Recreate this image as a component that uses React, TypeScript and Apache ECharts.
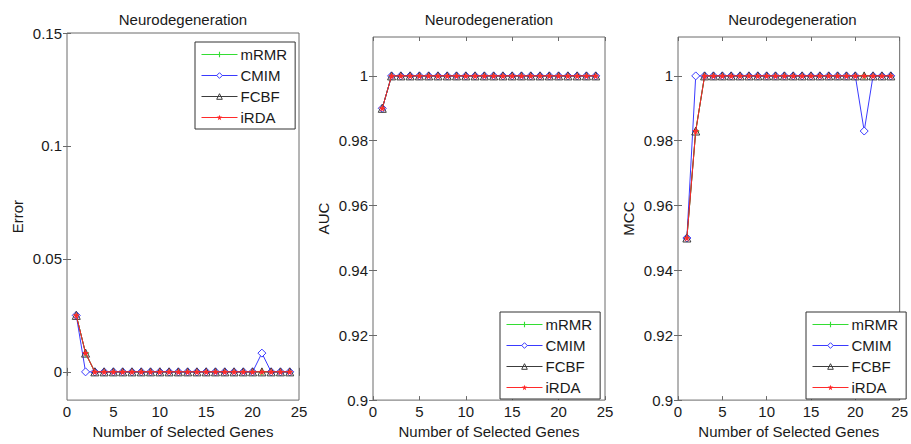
import React, { useEffect, useRef } from "react";
import * as echarts from "echarts";

const genes = [1, 2, 3, 4, 5, 6, 7, 8, 9, 10, 11, 12, 13, 14, 15, 16, 17, 18, 19, 20, 21, 22, 23, 24];
const methods = ["mRMR", "CMIM", "FCBF", "iRDA"];

const errorMRMR = [0.025, 0.0083, 0, 0, 0, 0, 0, 0, 0, 0, 0, 0, 0, 0, 0, 0, 0, 0, 0, 0, 0, 0, 0, 0];
const errorCMIM = [0.025, 0, 0, 0, 0, 0, 0, 0, 0, 0, 0, 0, 0, 0, 0, 0, 0, 0, 0, 0, 0.0083, 0, 0, 0];
const errorFCBF = [0.025, 0.0083, 0, 0, 0, 0, 0, 0, 0, 0, 0, 0, 0, 0, 0, 0, 0, 0, 0, 0, 0, 0, 0, 0];
const errorIRDA = [0.025, 0.0083, 0, 0, 0, 0, 0, 0, 0, 0, 0, 0, 0, 0, 0, 0, 0, 0, 0, 0, 0, 0, 0, 0];

const aucMRMR = [0.99, 1, 1, 1, 1, 1, 1, 1, 1, 1, 1, 1, 1, 1, 1, 1, 1, 1, 1, 1, 1, 1, 1, 1];
const aucCMIM = [0.99, 1, 1, 1, 1, 1, 1, 1, 1, 1, 1, 1, 1, 1, 1, 1, 1, 1, 1, 1, 1, 1, 1, 1];
const aucFCBF = [0.99, 1, 1, 1, 1, 1, 1, 1, 1, 1, 1, 1, 1, 1, 1, 1, 1, 1, 1, 1, 1, 1, 1, 1];
const aucIRDA = [0.99, 1, 1, 1, 1, 1, 1, 1, 1, 1, 1, 1, 1, 1, 1, 1, 1, 1, 1, 1, 1, 1, 1, 1];

const mccMRMR = [0.95, 0.983, 1, 1, 1, 1, 1, 1, 1, 1, 1, 1, 1, 1, 1, 1, 1, 1, 1, 1, 1, 1, 1, 1];
const mccCMIM = [0.95, 1, 1, 1, 1, 1, 1, 1, 1, 1, 1, 1, 1, 1, 1, 1, 1, 1, 1, 1, 0.983, 1, 1, 1];
const mccFCBF = [0.95, 0.983, 1, 1, 1, 1, 1, 1, 1, 1, 1, 1, 1, 1, 1, 1, 1, 1, 1, 1, 1, 1, 1, 1];
const mccIRDA = [0.95, 0.983, 1, 1, 1, 1, 1, 1, 1, 1, 1, 1, 1, 1, 1, 1, 1, 1, 1, 1, 1, 1, 1, 1];

const xTicks = [0, 5, 10, 15, 20, 25];
const errorTicks = [0, 0.05, 0.1, 0.15];
const scoreTicks = [0.9, 0.92, 0.94, 0.96, 0.98, 1];

const panelTitle = "Neurodegeneration";
const xName = "Number of Selected Genes";
const yNames = ["Error", "AUC", "MCC"];

const FONT = "'Liberation Sans', Arial, Helvetica, sans-serif";
const AXIS_COLOR = "#6a6a6a";
const TEXT_COLOR = "#1a1a1a";

const styles: Record<string, any> = {
  mRMR: {
    line: "#33dd33",
    symbol: "path://M4,0H6V4H10V6H6V10H4V6H0V4H4Z",
    size: 7,
    item: { color: "#33dd33", borderWidth: 0 },
  },
  CMIM: {
    line: "#3a3aff",
    symbol: "diamond",
    size: 8,
    item: { color: "#ffffff", borderColor: "#3a3aff", borderWidth: 1 },
  },
  FCBF: {
    line: "#3c3c3c",
    symbol: "triangle",
    size: 8,
    item: { color: "none", borderColor: "#3c3c3c", borderWidth: 1 },
  },
  iRDA: {
    line: "#ff2a2a",
    symbol: "path://M5,0L6.2,3.4L10,3.8L7,6.2L8,10L5,7.8L2,10L3,6.2L0,3.8L3.8,3.4Z",
    size: 7,
    item: { color: "#ff2a2a", borderWidth: 0 },
  },
};

const panelData = [
  [errorMRMR, errorCMIM, errorFCBF, errorIRDA],
  [aucMRMR, aucCMIM, aucFCBF, aucIRDA],
  [mccMRMR, mccCMIM, mccFCBF, mccIRDA],
];

const grids = [
  { left: 67, top: 33, width: 232, height: 369 },
  { left: 373, top: 37, width: 232, height: 365 },
  { left: 678, top: 37, width: 229, height: 365 },
];

const yRanges = [
  { min: -0.0125, max: 0.15, ticks: errorTicks },
  { min: 0.9, max: 1.012, ticks: scoreTicks },
  { min: 0.9, max: 1.012, ticks: scoreTicks },
];

const legendPos = [
  { left: 195, top: 42 },
  { left: 500, top: 312 },
  { left: 806, top: 312 },
];

function buildOption() {
  const xAxis: any[] = [];
  const yAxis: any[] = [];
  const series: any[] = [];
  const legend: any[] = [];
  const graphic: any[] = [];

  grids.forEach((g, i) => {
    const tickStyle = { show: true, inside: true, length: 4, lineStyle: { color: AXIS_COLOR, width: 1 } };
    xAxis.push({
      type: "value",
      gridIndex: i,
      position: "bottom",
      min: 0,
      max: 25,
      interval: 5,
      axisLine: { show: false },
      axisTick: { ...tickStyle, customValues: xTicks },
      splitLine: { show: false },
      axisLabel: { color: TEXT_COLOR, fontSize: 15, fontFamily: FONT, margin: 4, customValues: xTicks },
      name: xName,
      nameLocation: "middle",
      nameGap: 22,
      nameTextStyle: { color: TEXT_COLOR, fontSize: 15, fontFamily: FONT },
    });
    xAxis.push({
      type: "value",
      gridIndex: i,
      position: "top",
      min: 0,
      max: 25,
      interval: 5,
      axisLine: { show: false },
      axisTick: { ...tickStyle, customValues: xTicks },
      splitLine: { show: false },
      axisLabel: { show: false, customValues: xTicks },
    });
    const yr = yRanges[i];
    yAxis.push({
      type: "value",
      gridIndex: i,
      position: "left",
      min: yr.min,
      max: yr.max,
      axisLine: { show: false },
      axisTick: { ...tickStyle, customValues: yr.ticks },
      splitLine: { show: false },
      axisLabel: { color: TEXT_COLOR, fontSize: 15, fontFamily: FONT, margin: 5, customValues: yr.ticks },
      name: yNames[i],
      nameLocation: "middle",
      nameGap: 42,
      nameTextStyle: { color: TEXT_COLOR, fontSize: 15, fontFamily: FONT },
    });
    yAxis.push({
      type: "value",
      gridIndex: i,
      position: "right",
      min: yr.min,
      max: yr.max,
      axisLine: { show: false },
      axisTick: { ...tickStyle, customValues: yr.ticks },
      splitLine: { show: false },
      axisLabel: { show: false, customValues: yr.ticks },
    });

    methods.forEach((m, k) => {
      const s = styles[m];
      const vals = panelData[i][k];
      series.push({
        name: m,
        type: "line",
        xAxisIndex: 2 * i,
        yAxisIndex: 2 * i,
        data: genes.map((x, j) => [x, vals[j]]),
        symbol: s.symbol,
        symbolSize: s.size,
        showAllSymbol: true,
        lineStyle: { color: s.line, width: 1 },
        itemStyle: s.item,
        emphasis: { disabled: true },
        z: 2 + k,
      });
    });

    legend.push({
      data: methods.map((m) => ({
        name: m,
        itemStyle: styles[m].item,
        lineStyle: { color: styles[m].line, width: 1 },
      })),
      orient: "vertical",
      left: legendPos[i].left,
      top: legendPos[i].top,
      itemWidth: 36,
      itemHeight: 7,
      itemGap: 6,
      padding: [5, 8, 4, 6],
      selectedMode: false,
      backgroundColor: "#ffffff",
      borderColor: "#333333",
      borderWidth: 1,
      borderRadius: 0,
      lineStyle: { width: 1 },
      textStyle: { color: TEXT_COLOR, fontSize: 15, fontFamily: FONT, lineHeight: 15, padding: [0, 0, 0, -2] },
      z: 10,
    });

    graphic.push({
      type: "text",
      x: g.left + g.width / 2,
      y: 19,
      style: {
        text: panelTitle,
        fill: TEXT_COLOR,
        fontSize: 15,
        fontFamily: FONT,
        align: "center",
        verticalAlign: "middle",
      },
    });
  });

  return {
    animation: false,
    backgroundColor: "#ffffff",
    grid: grids.map((g) => ({ ...g, show: true, borderColor: AXIS_COLOR, borderWidth: 1, backgroundColor: "transparent" })),
    xAxis,
    yAxis,
    series,
    legend,
    graphic,
  };
}

export default function App() {
  const ref = useRef<HTMLDivElement>(null);
  useEffect(() => {
    if (!ref.current) return;
    const chart = echarts.init(ref.current, undefined, { renderer: "svg" });
    chart.setOption(buildOption() as any);
    return () => chart.dispose();
  }, []);
  return <div ref={ref} style={{ position: "fixed", left: 0, top: 0, width: 911, height: 444, background: "#fff" }} />;
}
